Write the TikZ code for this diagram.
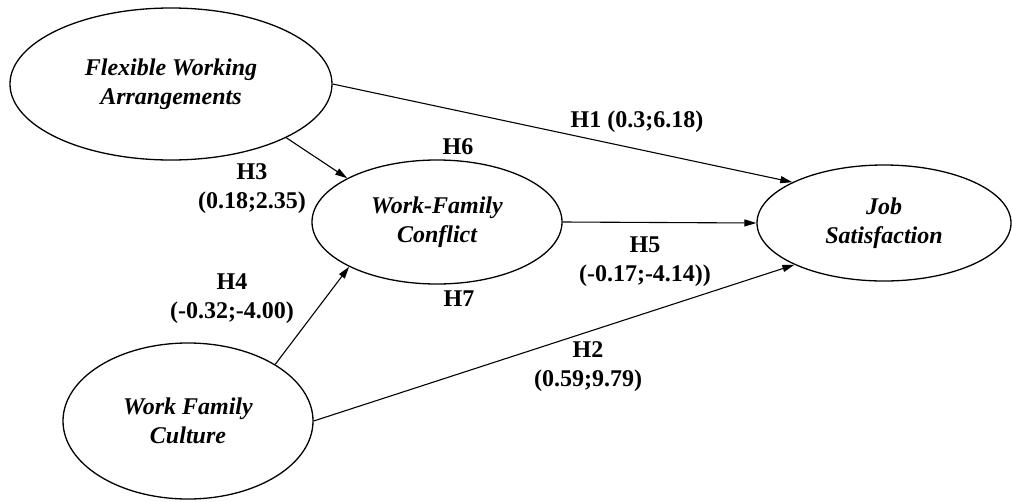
\documentclass[tikz,border=0pt]{standalone}
\usepackage{fontspec}
\setmainfont{Liberation Serif}
\usetikzlibrary{shapes.geometric,arrows.meta}

\begin{document}
\begin{tikzpicture}[x=1pt, y=-1pt, line width=1.3pt,
    construct/.style={ellipse, draw, inner sep=0pt, align=center,
      font=\fontsize{24}{29}\selectfont\bfseries\itshape},
    hyp/.style={-{Triangle[length=12pt,width=7pt]}, line width=1.1pt},
    lbl/.style={align=center, inner sep=0pt,
      font=\fontsize{24}{29}\selectfont\bfseries}]
  \useasboundingbox (0,0) rectangle (1012,501);
  % constructs: (centre, width, height)
  \node[construct, minimum width=322, minimum height=152] (fwa)  at (171,84)  {Flexible Working\\Arrangements};
  \node[construct, minimum width=250, minimum height=124] (wfc)  at (437,222) {Work-Family\\Conflict};
  \node[construct, minimum width=254, minimum height=116] (js)   at (884,223) {Job\\Satisfaction};
  \node[construct, minimum width=250, minimum height=156] (wfcu) at (188,421) {Work Family\\Culture};
  % hypothesised paths
  \draw[hyp] (fwa.east) -- (js.156);
  \draw[hyp] (fwa.-25)  -- (wfc.154);
  \draw[hyp] (wfc.east) -- (js.west);
  \draw[hyp] (wfcu.33)  -- (wfc.207);
  \draw[hyp] (wfcu.east) -- (js.205);
  % path labels
  \node[lbl] (h1) at (637,122) {H1 (0.3;6.18)};
  \node[lbl] (h2) at (588,367) {H2\\(0.59;9.79)};
  \node[lbl] (h3) at (252,189) {H3\\(0.18;2.35)};
  \node[lbl] (h4) at (232,299) {H4\\(-0.32;-4.00)};
  \node[lbl] (h5) at (645,262) {H5\\(-0.17;-4.14))};
  \node[lbl] (h6) at (458,147) {H6};
  \node[lbl] (h7) at (459,299) {H7};
\end{tikzpicture}
\end{document}
